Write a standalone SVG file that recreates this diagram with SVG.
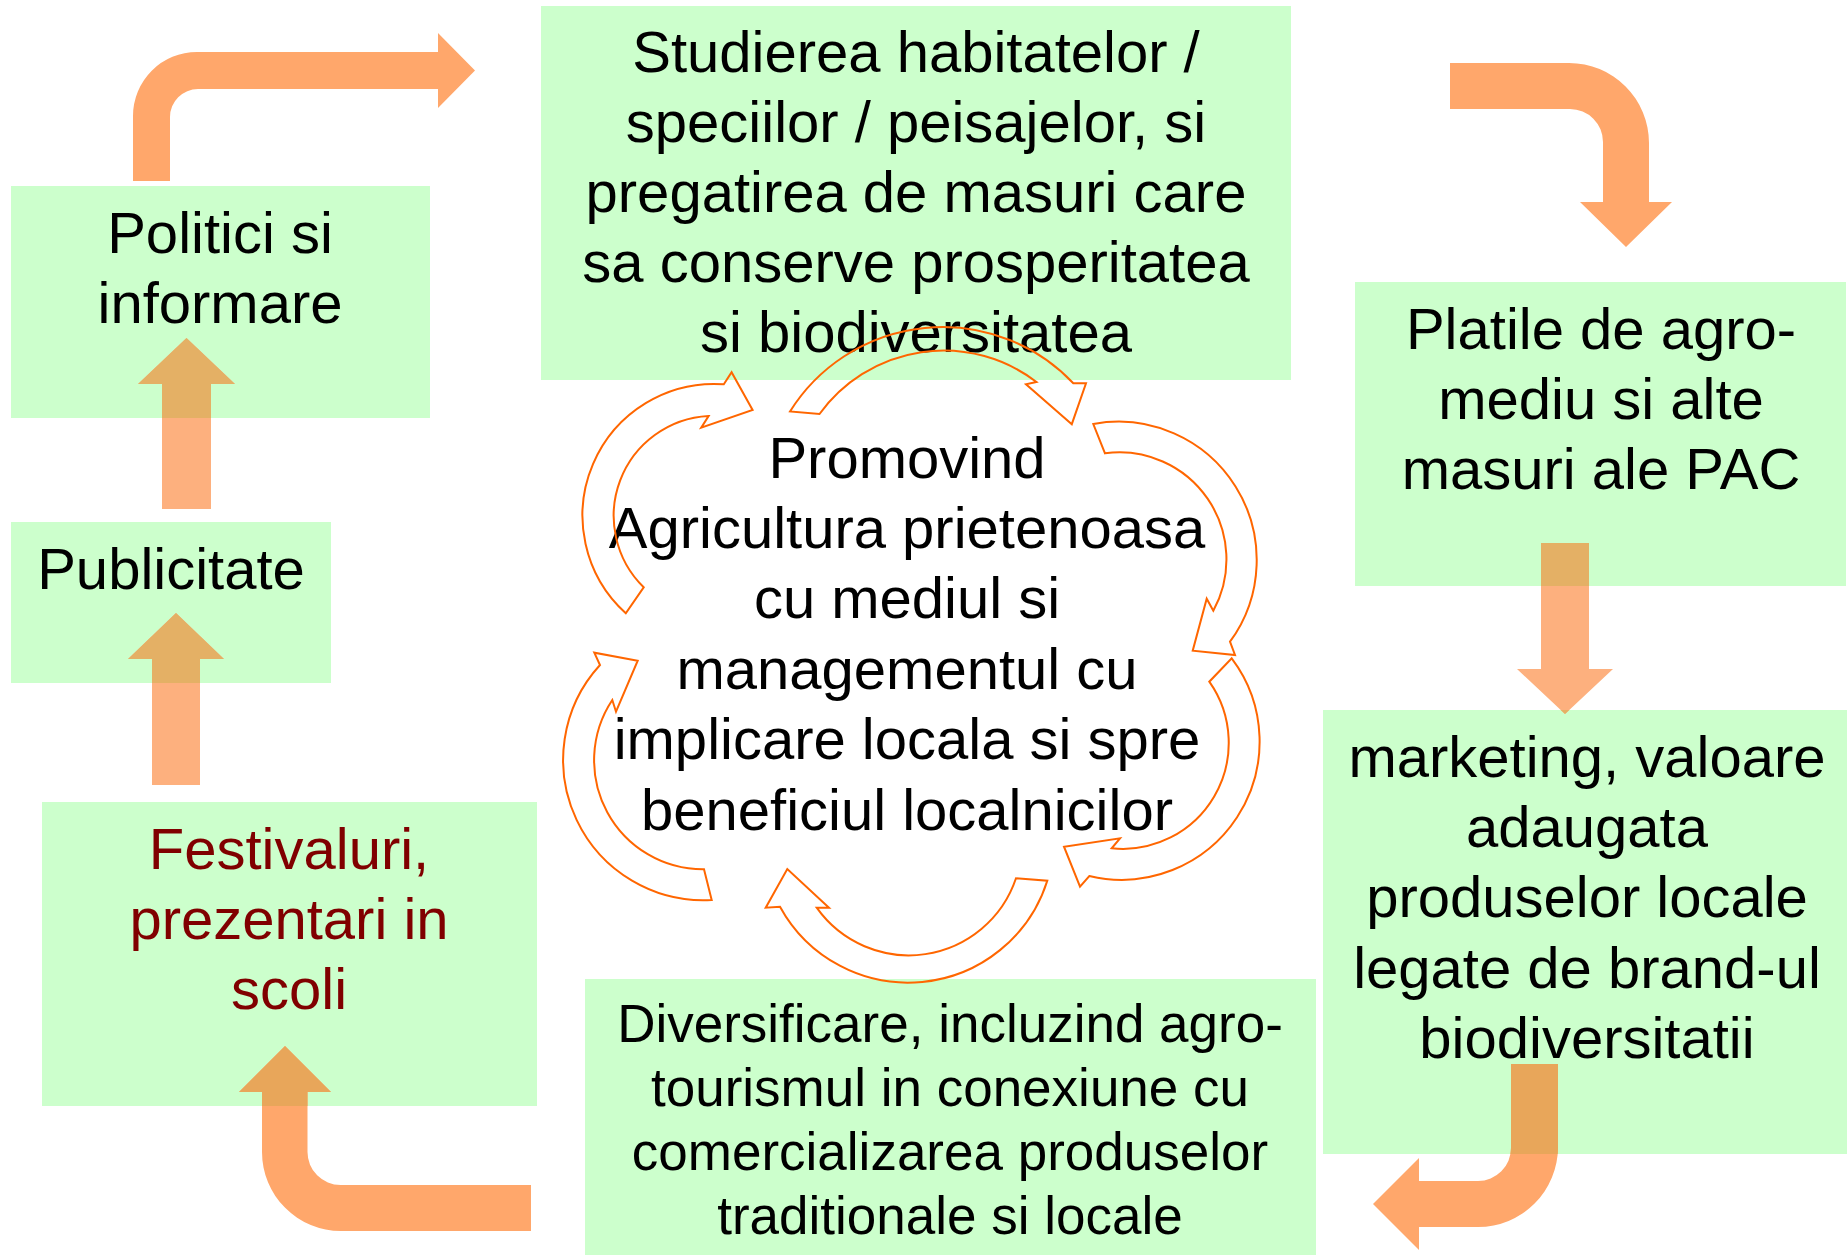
<svg xmlns="http://www.w3.org/2000/svg" xmlns:xlink="http://www.w3.org/1999/xlink" width="1847" height="1255" viewBox="0 0 1847 1255">
<style>
.box{fill:#CCFFCC}
.t{font-family:"Liberation Sans",Arial,Helvetica,sans-serif;font-size:58px;text-anchor:middle;fill:#000}
.t53{font-size:53px}
.red{fill:#800000}
.bend{fill:#FFA76B}
.bendov{fill:#E8A65A}
.str{fill:#FDB07E}
.strov{fill:#E4B065}
.cyc{fill:none;stroke:#FF6600;stroke-width:2;stroke-linejoin:miter}
</style>
<defs>
<clipPath id="cPol"><rect x="11" y="186" width="419" height="232"/></clipPath>
<clipPath id="cPub"><rect x="11" y="522" width="320" height="161"/></clipPath>
<clipPath id="cPla"><rect x="1355" y="282" width="491" height="304"/></clipPath>
<clipPath id="cMar"><rect x="1323" y="710" width="524" height="444"/></clipPath>
<clipPath id="cFes"><rect x="42" y="802" width="495" height="304"/></clipPath>
<path id="a3" d="M1541,543 L1589,543 L1589,669 L1613,669 L1565,714 L1517,669 L1541,669 Z"/>
<path id="a4" d="M1511,1064 L1558,1064 L1558,1147 A80,80 0 0 1 1478,1227 L1419,1227 L1419,1250 L1373,1204 L1419,1158 L1419,1181 L1478,1181 A33,33 0 0 0 1511,1148 Z"/>
<path id="a5" d="M531,1185 L531,1231 L341,1231 A79,79 0 0 1 262,1152 L262,1092 L239,1092 L285,1046 L331,1092 L307.5,1092 L307.5,1152 A33,33 0 0 0 340.5,1185 Z"/>
<path id="a6" d="M152,785 L152,659 L128,659 L176,613 L224,659 L200,659 L200,785 Z"/>
<path id="a7" d="M162,509 L162,384 L138,384 L186.5,338 L235,384 L211,384 L211,509 Z"/>
</defs>
<rect width="1847" height="1255" fill="#FFFFFF"/>

<g id="node-politici">
<rect class="box" x="11" y="186" width="419" height="232"/>
<text class="t" x="220" y="253">Politici si</text>
<text class="t" x="220" y="323">informare</text>
</g>
<g id="node-studierea">
<rect class="box" x="541" y="6" width="750" height="374"/>
<text class="t" x="916" y="72">Studierea habitatelor /</text>
<text class="t" x="916" y="142">speciilor / peisajelor, si</text>
<text class="t" x="916" y="212">pregatirea de masuri care</text>
<text class="t" x="916" y="282">sa conserve prosperitatea</text>
<text class="t" x="916" y="352">si biodiversitatea</text>
</g>
<g id="node-platile">
<rect class="box" x="1355" y="282" width="491" height="304"/>
<text class="t" x="1601" y="349">Platile de agro-</text>
<text class="t" x="1601" y="419">mediu si alte</text>
<text class="t" x="1601" y="489">masuri ale PAC</text>
</g>
<g id="node-marketing">
<rect class="box" x="1323" y="710" width="524" height="444"/>
<text class="t" x="1587" y="777">marketing, valoare</text>
<text class="t" x="1587" y="847">adaugata</text>
<text class="t" x="1587" y="917">produselor locale</text>
<text class="t" x="1587" y="988">legate de brand-ul</text>
<text class="t" x="1587" y="1058">biodiversitatii</text>
</g>
<g id="node-diversificare">
<rect class="box" x="585" y="979" width="731" height="276"/>
<text class="t t53" x="950" y="1042">Diversificare, incluzind agro-</text>
<text class="t t53" x="950" y="1106">tourismul in conexiune cu</text>
<text class="t t53" x="950" y="1170">comercializarea produselor</text>
<text class="t t53" x="950" y="1234">traditionale si locale</text>
</g>
<g id="node-festivaluri">
<rect class="box" x="42" y="802" width="495" height="304"/>
<text class="t red" x="289" y="869">Festivaluri,</text>
<text class="t red" x="289" y="939">prezentari in</text>
<text class="t red" x="289" y="1009">scoli</text>
</g>
<g id="node-publicitate">
<rect class="box" x="11" y="522" width="320" height="161"/>
<text class="t" x="171" y="589">Publicitate</text>
</g>
<g id="node-center">
<text class="t" x="907" y="478">Promovind</text>
<text class="t" x="907" y="548">Agricultura prietenoasa</text>
<text class="t" x="907" y="618">cu mediul si</text>
<text class="t" x="907" y="689">managementul cu</text>
<text class="t" x="907" y="759">implicare locala si spre</text>
<text class="t" x="907" y="830">beneficiul localnicilor</text>
</g>

<g id="connectors">
<path class="bend" d="M133,181 L133,116 A64,64 0 0 1 197,52 L438,52 L438,33 L475,70.5 L438,108 L438,89 L198,89 A28,28 0 0 0 170,117 L170,181 Z"/>
<path class="bend" d="M1450,63 L1569,63 A80,80 0 0 1 1649,143 L1649,202 L1672,202 L1626,247 L1580,202 L1603,202 L1603,142 A33,33 0 0 0 1570,109 L1450,109 Z"/>
<use xlink:href="#a3" class="str"/>
<use xlink:href="#a3" class="strov" clip-path="url(#cPla)"/>
<use xlink:href="#a3" class="strov" clip-path="url(#cMar)"/>
<use xlink:href="#a4" class="bend"/>
<use xlink:href="#a4" class="bendov" clip-path="url(#cMar)"/>
<use xlink:href="#a5" class="bend"/>
<use xlink:href="#a5" class="bendov" clip-path="url(#cFes)"/>
<use xlink:href="#a6" class="str"/>
<use xlink:href="#a6" class="strov" clip-path="url(#cPub)"/>
<use xlink:href="#a7" class="str"/>
<use xlink:href="#a7" class="strov" clip-path="url(#cPol)"/>
</g>

<g id="cycle-arrows">
<path class="cyc" d="M790,411.5 A180,180 0 0 1 1073.3,383.3 L1086,383.3 L1071.8,424.2 L1026,384.2 L1036.5,382 A153,153 0 0 0 819.5,414 Z"/>
<path class="cyc" d="M1093.3,424 A138.3,138.3 0 0 1 1230,641.7 L1235,655 L1192.7,650.7 L1206.7,598.7 L1213.3,610.7 A107,107 0 0 0 1105,453.3 Z"/>
<path class="cyc" d="M1231.7,658.3 A138.2,138.2 0 0 1 1089.3,876 L1080,886.7 L1064,846.7 L1120,838.3 L1111.7,848.3 A106,106 0 0 0 1209.3,681.7 Z"/>
<path class="cyc" d="M1047.3,880.7 A146,146 0 0 1 780,906.7 L765.7,907.7 L787.3,869 L829,907.7 L816.7,907.7 A113,113 0 0 0 1016,878.3 Z"/>
<path class="cyc" d="M711.7,900 A140.4,140.4 0 0 1 600,665 L594.3,652.7 L637.7,660.7 L616,711.7 L612.3,700 A109,109 0 0 0 704,869.3 Z"/>
<path class="cyc" d="M625.8,613.3 A131.7,131.7 0 0 1 723.8,384.3 L731.6,372.3 L752.6,410 L701.2,427.7 L708.6,416 A100,100 0 0 0 643.7,587.3 Z"/>
</g>
</svg>
